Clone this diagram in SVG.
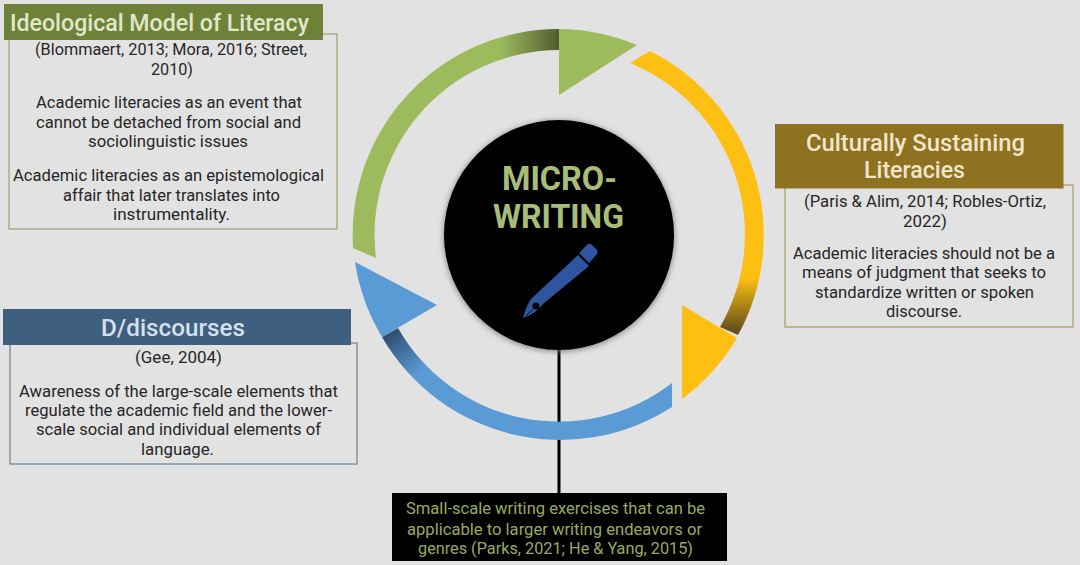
<svg xmlns="http://www.w3.org/2000/svg" width="1080" height="565" viewBox="0 0 1080 565">
<style>
text{font-family:Roboto,"Noto Sans","Liberation Sans",sans-serif}
.b{font-size:16px;fill:#262626}
.t{font-size:24px;font-weight:500}
.s{font-size:16px;fill:#98aa60}
.m{font-size:34px;font-weight:700;fill:#a8bd78}
.box{fill:none;stroke-width:1.2}
</style>
<defs>
<linearGradient id="gg" gradientUnits="userSpaceOnUse" x1="500" y1="0" x2="559" y2="0"><stop offset="0" stop-color="#9dbb5c"/><stop offset="1" stop-color="#525c30"/></linearGradient>
<linearGradient id="gy" gradientUnits="userSpaceOnUse" x1="0" y1="278" x2="0" y2="330"><stop offset="0" stop-color="#fdbf12"/><stop offset="1" stop-color="#65501a"/></linearGradient>
<linearGradient id="gb" gradientUnits="userSpaceOnUse" x1="392" y1="330" x2="425" y2="368"><stop offset="0" stop-color="#2f4d6e"/><stop offset="1" stop-color="#5b9bd5"/></linearGradient>
<filter id="sh" x="-10%" y="-10%" width="120%" height="120%"><feGaussianBlur stdDeviation="3"/></filter>
</defs>
<rect width="1080" height="565" fill="#e2e2e2"/>
<g id="connectors"><path d="M559 350V493" stroke="#000" stroke-width="3" fill="none"/></g>
<g id="ring-green">
<path d="M353 248A206 206 0 0 1 559 29V50A185 185 0 0 0 376 258Z" fill="url(#gg)"/>
<path d="M559 29A206 206 0 0 1 637 45L559 95Z" fill="#9dbb5c"/>
</g>
<g id="ring-yellow">
<path d="M650 51A206 206 0 0 1 738 335L720 327A185 185 0 0 0 630 63Z" fill="url(#gy)"/>
<path d="M682 305L737 338A206 206 0 0 1 682 399Z" fill="#fdbf12"/>
</g>
<g id="ring-blue">
<path d="M672 407A206 206 0 0 1 382 337L398 328A185 185 0 0 0 672 383Z" fill="url(#gb)"/>
<path d="M355 262L437 305L382 337A206 206 0 0 1 355 262Z" fill="#5b9bd5"/>
</g>
<g id="center">
<circle cx="559" cy="236" r="115" fill="#777" filter="url(#sh)"/>
<circle cx="559" cy="235" r="115" fill="#000"/>
<text class="m" x="502" y="190" textLength="115" lengthAdjust="spacingAndGlyphs">MICRO-</text>
<text class="m" x="493" y="228" textLength="131" lengthAdjust="spacingAndGlyphs">WRITING</text>
<path d="M578 255L589 266L543 304Q537 313 523 318Q527 304 531 299Z" fill="#2f55a0"/>
<path d="M580 252L588 244Q590 243 592 245L597 250Q598 252 597 254L590 262Q589 263 588 262L580 254Q579 253 580 252Z" fill="#2f55a0"/>
<circle cx="536" cy="306" r="3.500" fill="#000"/>
<path d="M535 307L526 316" stroke="#000" stroke-width="0.8"/>
</g>
<g id="ideological">
<rect class="box" x="9" y="34" width="328" height="195" stroke="#9a9f75"/>
<rect x="4" y="4" width="319" height="36" fill="#6f8138"/>
<text class="t" x="10" y="31" textLength="299" lengthAdjust="spacingAndGlyphs" fill="#dfe7ca">Ideological Model of Literacy</text>
<text class="b" x="35" y="55" textLength="272" lengthAdjust="spacingAndGlyphs">(Blommaert, 2013; Mora, 2016; Street,</text>
<text class="b" x="151" y="75" textLength="42" lengthAdjust="spacingAndGlyphs">2010)</text>
<text class="b" x="36" y="108" textLength="266" lengthAdjust="spacingAndGlyphs">Academic literacies as an event that</text>
<text class="b" x="36" y="128" textLength="265" lengthAdjust="spacingAndGlyphs">cannot be detached from social and</text>
<text class="b" x="88" y="147" textLength="160" lengthAdjust="spacingAndGlyphs">sociolinguistic issues</text>
<text class="b" x="13" y="181" textLength="311" lengthAdjust="spacingAndGlyphs">Academic literacies as an epistemological</text>
<text class="b" x="63" y="201" textLength="217" lengthAdjust="spacingAndGlyphs">affair that later translates into</text>
<text class="b" x="113" y="220" textLength="117" lengthAdjust="spacingAndGlyphs">instrumentality.</text>
</g>
<g id="culturally">
<rect class="box" x="785" y="185" width="288" height="142" stroke="#a89a5f"/>
<rect x="775" y="124" width="288.500" height="64.500" fill="#8f7122"/>
<text class="t" x="806" y="151" textLength="219" lengthAdjust="spacingAndGlyphs" fill="#efe7cb">Culturally Sustaining</text>
<text class="t" x="864" y="178" textLength="101" lengthAdjust="spacingAndGlyphs" fill="#efe7cb">Literacies</text>
<text class="b" x="804" y="207" textLength="242" lengthAdjust="spacingAndGlyphs">(Paris &amp; Alim, 2014; Robles-Ortiz,</text>
<text class="b" x="903" y="227" textLength="44" lengthAdjust="spacingAndGlyphs">2022)</text>
<text class="b" x="793" y="259" textLength="262" lengthAdjust="spacingAndGlyphs">Academic literacies should not be a</text>
<text class="b" x="802" y="278" textLength="244" lengthAdjust="spacingAndGlyphs">means of judgment that seeks to</text>
<text class="b" x="815" y="298" textLength="219" lengthAdjust="spacingAndGlyphs">standardize written or spoken</text>
<text class="b" x="886" y="317" textLength="76" lengthAdjust="spacingAndGlyphs">discourse.</text>
</g>
<g id="discourses">
<rect class="box" x="10" y="343" width="347" height="121" stroke="#6a8296"/>
<rect x="3" y="309" width="348" height="36" fill="#3f5f80"/>
<text class="t" x="101" y="336" textLength="144" lengthAdjust="spacingAndGlyphs" fill="#d6e0ea">D/discourses</text>
<text class="b" x="135" y="363" textLength="87" lengthAdjust="spacingAndGlyphs">(Gee, 2004)</text>
<text class="b" x="19" y="397" textLength="319" lengthAdjust="spacingAndGlyphs">Awareness of the large-scale elements that</text>
<text class="b" x="25" y="416" textLength="307" lengthAdjust="spacingAndGlyphs">regulate the academic field and the lower-</text>
<text class="b" x="36" y="435" textLength="285" lengthAdjust="spacingAndGlyphs">scale social and individual elements of</text>
<text class="b" x="141" y="455" textLength="73" lengthAdjust="spacingAndGlyphs">language.</text>
</g>
<g id="definition">
<rect x="392" y="493" width="335" height="68" fill="#000"/>
<text class="s" x="406" y="514" textLength="299" lengthAdjust="spacingAndGlyphs">Small-scale writing exercises that can be</text>
<text class="s" x="407" y="535" textLength="295" lengthAdjust="spacingAndGlyphs">applicable to larger writing endeavors or</text>
<text class="s" x="418" y="554" textLength="275" lengthAdjust="spacingAndGlyphs">genres (Parks, 2021; He &amp; Yang, 2015)</text>
</g>
</svg>
